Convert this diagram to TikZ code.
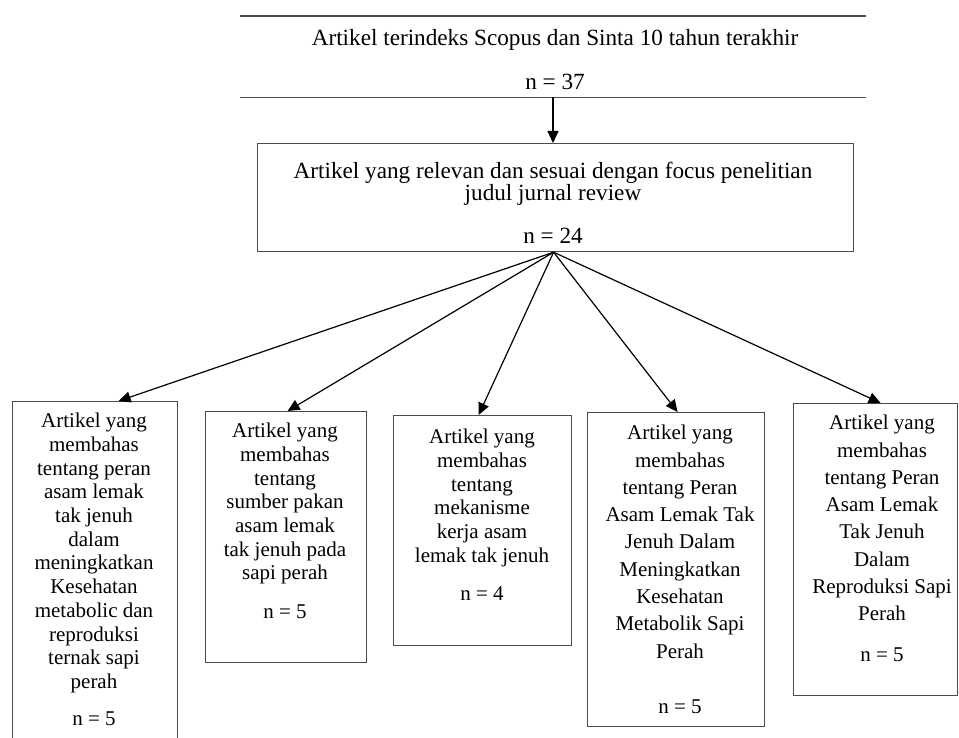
\documentclass[tikz,border=0pt]{standalone}
\usepackage{fontspec}
\setmainfont{Liberation Serif}
\usetikzlibrary{arrows.meta,calc}
\begin{document}
\begin{tikzpicture}[x=1pt,y=-1pt,
  box/.style={draw=black!70, line width=1.2pt, rectangle, inner sep=0pt, anchor=north west},
  txt/.style={inner sep=0pt, align=center, anchor=north, font=\fontsize{21}{23.7}\selectfont},
  txtw/.style={inner sep=0pt, align=center, anchor=north, font=\fontsize{21}{27.3}\selectfont},
  toptxt/.style={inner sep=0pt, align=center, anchor=north, font=\fontsize{23.2}{21.5}\selectfont},
  arr/.style={-{Triangle[length=12pt,width=11pt]}, line width=1.2pt, black}
]
\useasboundingbox (0,0) rectangle (959,738);
% top (only horizontal rules)
\node[inner sep=0pt, minimum width=626pt, minimum height=81pt, anchor=north west] (t) at (240,16) {};
\draw[black!70, line width=1.2pt] (t.north west) -- (t.north east);
\draw[black!70, line width=1.2pt] (t.south west) -- (t.south east);
\node[toptxt] (tt) at (555,29) {Artikel terindeks Scopus dan Sinta 10 tahun terakhir\\[22.5pt] n = 37};
% second box
\node[box, minimum width=596pt, minimum height=108pt] (b0) at (257,143) {};
\node[toptxt] (bt0) at (553,162) {Artikel yang relevan dan sesuai dengan focus penelitian\\ judul jurnal review\\[21.5pt] n = 24};
% bottom boxes
\node[box, minimum width=165pt, minimum height=344pt] (b1) at (12,401) {};
\node[box, minimum width=161pt, minimum height=251pt] (b2) at (205,411) {};
\node[box, minimum width=178pt, minimum height=230pt] (b3) at (393,415) {};
\node[box, minimum width=177pt, minimum height=314pt] (b4) at (587,412) {};
\node[box, minimum width=164pt, minimum height=292pt] (b5) at (793,403) {};
\node[txt] (t1) at (94,413) {Artikel yang\\ membahas\\ tentang peran\\ asam lemak\\ tak jenuh\\ dalam\\ meningkatkan\\ Kesehatan\\ metabolic dan\\ reproduksi\\ ternak sapi\\ perah\\[13.3pt] n = 5};
\node[txt] (t2) at (285,423) {Artikel yang\\ membahas\\ tentang\\ sumber pakan\\ asam lemak\\ tak jenuh pada\\ sapi perah\\[15pt] n = 5};
\node[txt] (t3) at (482,429) {Artikel yang\\ membahas\\ tentang\\ mekanisme\\ kerja asam\\ lemak tak jenuh\\[14.5pt] n = 4};
\node[txtw] (t4) at (680,425) {Artikel yang\\ membahas\\ tentang Peran\\ Asam Lemak Tak\\ Jenuh Dalam\\ Meningkatkan\\ Kesehatan\\ Metabolik Sapi\\ Perah\\[28pt] n = 5};
\node[txtw] (t5) at (882,415) {Artikel yang\\ membahas\\ tentang Peran\\ Asam Lemak\\ Tak Jenuh\\ Dalam\\ Reproduksi Sapi\\ Perah\\[13pt] n = 5};
% connectors
\draw[arr] (t.south -| 553,0) -- (553,143);
\coordinate (f) at ([xshift=-2pt]b0.south);
\draw[arr] (f) -- ([xshift=23.5pt]b1.north);
\draw[arr] (f) -- ([xshift=1.5pt]b2.north);
\draw[arr] (f) -- ([xshift=-4pt]b3.north);
\draw[arr] (f) -- ([xshift=1.5pt]b4.north);
\draw[arr] (f) -- ([xshift=5pt]b5.north);
\end{tikzpicture}
\end{document}
